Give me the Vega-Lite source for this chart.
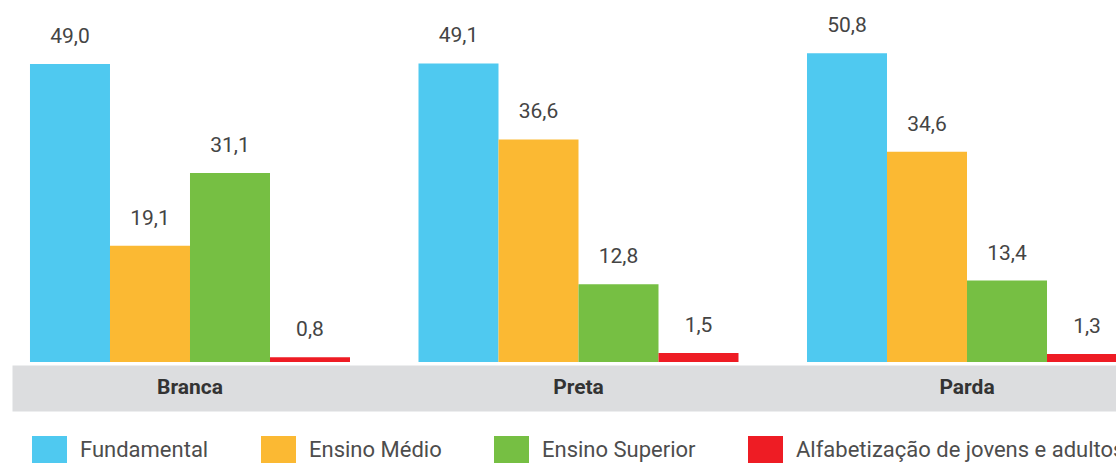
{
  "$schema": "https://vega.github.io/schema/vega-lite/v6.json",
  "width": 1104,
  "height": 362,
  "autosize": {"type": "none"},
  "padding": {"left": 12, "top": 0, "right": 0, "bottom": 101},
  "config": {
    "view": {"stroke": null},
    "locale": {"number": {"decimal": ",", "thousands": ".", "grouping": [3], "currency": ["R$", ""]}}
  },
  "data": {
    "values": [
      {"grupo": "Branca", "nivel": "Fundamental", "valor": 49.0},
      {"grupo": "Branca", "nivel": "Ensino Médio", "valor": 19.1},
      {"grupo": "Branca", "nivel": "Ensino Superior", "valor": 31.1},
      {"grupo": "Branca", "nivel": "Alfabetização de jovens e adultos", "valor": 0.8},
      {"grupo": "Preta", "nivel": "Fundamental", "valor": 49.1},
      {"grupo": "Preta", "nivel": "Ensino Médio", "valor": 36.6},
      {"grupo": "Preta", "nivel": "Ensino Superior", "valor": 12.8},
      {"grupo": "Preta", "nivel": "Alfabetização de jovens e adultos", "valor": 1.5},
      {"grupo": "Parda", "nivel": "Fundamental", "valor": 50.8},
      {"grupo": "Parda", "nivel": "Ensino Médio", "valor": 34.6},
      {"grupo": "Parda", "nivel": "Ensino Superior", "valor": 13.4},
      {"grupo": "Parda", "nivel": "Alfabetização de jovens e adultos", "valor": 1.3}
    ]
  },
  "encoding": {
    "x": {
      "field": "grupo",
      "type": "nominal",
      "sort": ["Branca", "Preta", "Parda"],
      "title": null,
      "scale": {"range": [0, 1133], "paddingInner": 0.1763, "paddingOuter": 0.0463},
      "axis": {
        "domainColor": "#dcdddf",
        "domainWidth": 46,
        "domainCap": "butt",
        "offset": 26,
        "ticks": false,
        "labels": false,
        "grid": false
      }
    },
    "y": {
      "field": "valor",
      "type": "quantitative",
      "scale": {"domain": [0, 59.54], "nice": false},
      "axis": null
    }
  },
  "layer": [
    {
      "mark": {"type": "bar"},
      "encoding": {
        "xOffset": {
          "field": "nivel",
          "type": "nominal",
          "sort": ["Fundamental", "Ensino Médio", "Ensino Superior", "Alfabetização de jovens e adultos"],
          "scale": {"paddingInner": 0, "paddingOuter": 0}
        },
        "color": {
          "field": "nivel",
          "type": "nominal",
          "scale": {
            "domain": ["Fundamental", "Ensino Médio", "Ensino Superior", "Alfabetização de jovens e adultos"],
            "range": ["#4fc9f0", "#fbb933", "#76bf43", "#ee1c24"]
          },
          "legend": {
            "orient": "none",
            "legendX": 20,
            "legendY": 432,
            "direction": "horizontal",
            "columns": 4,
            "title": null,
            "symbolType": "M-1,-0.7714H1V0.7714H-1Z",
            "symbolSize": 1225,
            "symbolStrokeWidth": 0,
            "symbolOpacity": 1,
            "labelFont": "Roboto",
            "labelFontSize": 22,
            "labelColor": "#4d4d4d",
            "labelOffset": 13,
            "labelLimit": 500,
            "columnPadding": 52,
            "padding": 0
          }
        }
      }
    },
    {
      "mark": {"type": "text", "dy": -21, "baseline": "alphabetic", "align": "center", "font": "Roboto", "fontSize": 21, "color": "#444444"},
      "encoding": {
        "xOffset": {
          "field": "nivel",
          "type": "nominal",
          "sort": ["Fundamental", "Ensino Médio", "Ensino Superior", "Alfabetização de jovens e adultos"],
          "scale": {"paddingInner": 0, "paddingOuter": 0}
        },
        "text": {"field": "valor", "type": "quantitative", "format": ".1f"}
      }
    },
    {
      "transform": [{"filter": "datum.nivel === 'Fundamental'"}],
      "mark": {"type": "text", "dy": 26, "baseline": "middle", "align": "center", "font": "Roboto", "fontWeight": "bold", "fontSize": 21, "color": "#333333"},
      "encoding": {
        "y": {"datum": 0},
        "text": {"field": "grupo", "type": "nominal"}
      }
    }
  ]
}
